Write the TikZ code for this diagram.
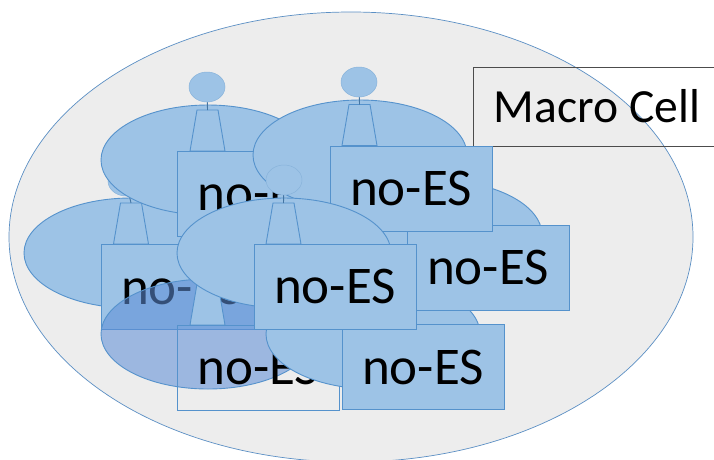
\documentclass[tikz,border=0pt]{standalone}
\usepackage{fontspec}
\setmainfont{Carlito}
\usepackage{tikz}
\usetikzlibrary{shapes.geometric}
\definecolor{cellgrey}{HTML}{EDEDED}
\definecolor{cellline}{HTML}{5B8FC4}
\definecolor{esfill}{HTML}{9DC3E6}
\definecolor{esline}{HTML}{5592CC}
\definecolor{ghostfill}{HTML}{5E8ED6}
\newcommand{\drawmast}[1]{\draw [mast] (#1) ++(-10.5, 0) -- ++(21, 0) -- ++(7, 41) -- ++(-35, 0) -- cycle;}
\tikzset{
    macro/.style = {ellipse, draw=cellline, fill=cellgrey, line width=0.7pt, minimum width=684pt, minimum height=450pt, inner sep=0pt},
    macrobox/.style = {rectangle, draw=black!70, line width=0.9pt, minimum width=248pt, minimum height=79pt, inner sep=0pt, font=\fontsize{47.6}{58}\selectfont},
    cover/.style = {ellipse, draw=esline, fill=esfill, line width=0.9pt, minimum width=214pt, minimum height=110pt, inner sep=0pt},
    ghostcover/.style = {cover, fill=ghostfill, fill opacity=0.56},
    mast/.style = {draw=esline, fill=esfill, line width=0.9pt},
    antenna/.style = {ellipse, draw=esline!70, fill=esfill, line width=0.5pt, minimum width=36pt, minimum height=30pt, inner sep=0pt},
    esbox/.style = {rectangle, draw=esline, fill=esfill, line width=0.9pt, minimum width=162pt, minimum height=85pt, inner sep=0pt, font=\fontsize{53}{60}\selectfont},
    ghostbox/.style = {esbox, fill=none},
    stem/.style = {draw=esline!80!black, line width=0.9pt}
}
\begin{document}
\begin{tikzpicture}[x=1pt, y=-1pt]
    \useasboundingbox[clip] (0, 0) rectangle (714, 459);

    \node [macro] (cell) at (351, 237) {};
    \node [macrobox] (cellbox) at (597, 106.5) {Macro Cell};

    \node [antenna] (leftant) at (126, 181) {};
    \node [cover] (leftcover) at (131, 253) {};
    \coordinate (leftmast) at (131, 203);
    \drawmast{leftmast}
    \draw [stem] (leftant) -- (leftmast);
    \node [esbox] (leftbox) at (182, 287) {no-ES};

    \node [antenna] (topant) at (207, 87) {};
    \node [cover] (topcover) at (208, 160) {};
    \coordinate (topmast) at (207.5, 110);
    \drawmast{topmast}
    \draw [stem] (topant) -- (topmast);
    \node [esbox] (topbox) at (258.5, 193.5) {no-ES};

    \node [ghostcover] (lowcover) at (208, 334) {};
    \coordinate (lowmast) at (207.5, 284);
    \drawmast{lowmast}
    \node [ghostbox] (lowbox) at (258.5, 367.5) {no-ES};

    \node [cover] (corncover) at (373, 334) {};
    \node [esbox] (cornbox) at (423, 367) {no-ES};

    \node [cover] (sidecover) at (435, 235) {};
    \node [esbox] (sidebox) at (488, 267.5) {no-ES};

    \node [antenna] (farant) at (359, 82) {};
    \node [cover] (farcover) at (360, 155) {};
    \coordinate (farmast) at (359.5, 104.5);
    \drawmast{farmast}
    \draw [stem] (farant) -- (farmast);
    \node [esbox] (farbox) at (411, 188.5) {no-ES};

    \node [antenna] (midant) at (284, 180) {};
    \node [cover] (midcover) at (284, 253) {};
    \coordinate (midmast) at (283.5, 203);
    \drawmast{midmast}
    \draw [stem] (midant) -- (midmast);
    \node [esbox] (midbox) at (335, 286.5) {no-ES};
\end{tikzpicture}
\end{document}
